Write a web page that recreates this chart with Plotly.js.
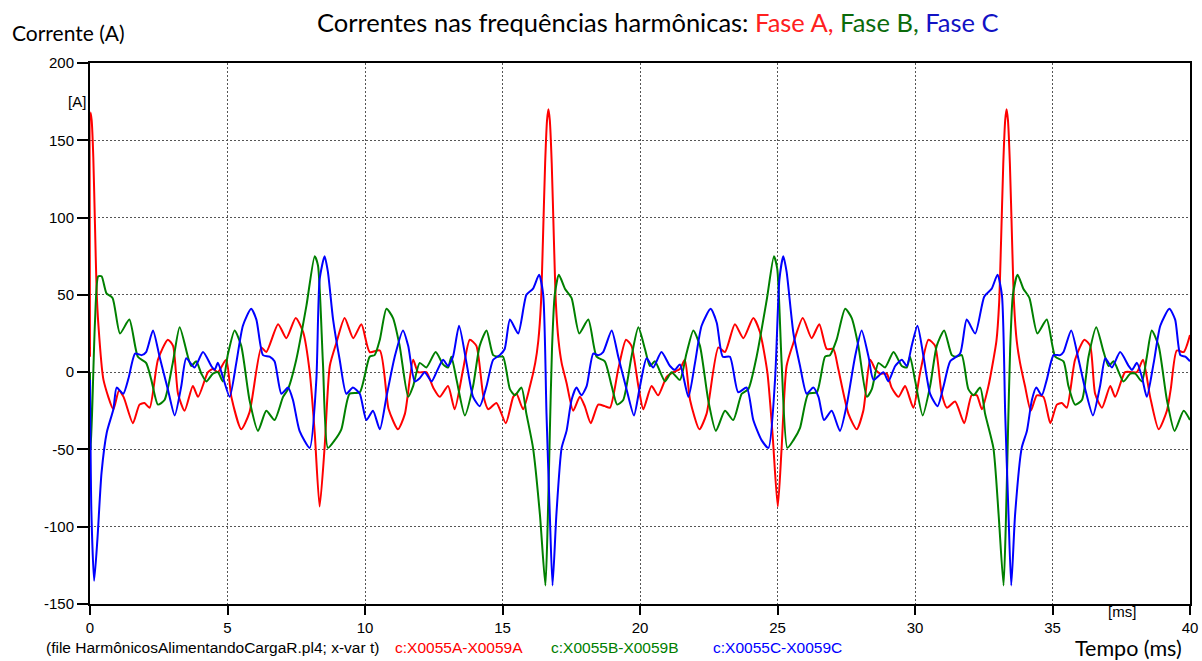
<!DOCTYPE html>
<html>
<head>
<meta charset="utf-8">
<script src="https://cdn.plot.ly/plotly-3.0.1.min.js"></script>
<style>html,body{margin:0;padding:0;background:#fff}#chart{width:1202px;height:661px}</style>
</head>
<body>
<div id="chart"></div>
<script>
// Phase A (red) — time in ms, current in A
const tA = [0,0.02,0.06,0.12,0.18,0.24,0.30,0.49,0.85,1.05,1.22,1.56,1.80,1.98,2.17,2.47,2.83,3.02,3.20,3.44,3.74,3.93,4.29,4.47,4.65,4.95,5.14,5.50,5.80,6.23,6.41,6.84,7.14,7.48,7.75,7.99,8.17,8.35,8.53,8.72,8.96,9.26,9.57,9.87,10.17,10.54,10.86,11.20,11.45,11.75,11.93,12.23,12.48,12.72,13.02,13.26,13.57,13.81,14.05,14.30,14.48,14.78,15.12,15.39,15.51,15.75,16.00,16.19,16.30,16.40,16.47,16.55,16.62,16.67,16.72,16.79,16.87,16.94,17.04,17.15,17.33,17.57,17.81,17.99,18.21,18.48,18.72,18.91,19.21,19.49,19.69,19.94,20.12,20.42,20.66,20.97,21.21,21.45,21.63,21.82,22.16,22.42,22.85,23.09,23.45,23.76,24.12,24.36,24.63,24.82,25.01,25.15,25.33,25.58,25.92,26.24,26.52,26.79,27.03,27.21,27.58,27.88,28.12,28.37,28.55,28.73,28.97,29.15,29.40,29.64,29.94,30.19,30.49,30.73,30.97,31.16,31.46,31.79,32.06,32.25,32.43,32.67,32.85,32.96,33.06,33.13,33.21,33.28,33.33,33.38,33.45,33.53,33.60,33.70,33.82,34.00,34.21,34.43,34.67,34.92,35.16,35.34,35.52,35.82,36.16,36.37,36.55,36.80,37.10,37.28,37.64,37.89,38.07,38.29,38.55,38.86,39.16,39.30,39.52,39.77,40.00];
const iA = [10,168,163,139,96,53,32,-5,-24,-12,-16,-33,-21,-20,-23,8,21,17,-14,-25,-9,-16,0,2,0,8,-16,-37,-26,16,13,31,22,35,26,0,-39,-87,-49,4,19,35,22,31,13,14,-24,-37,-27,8,0,0,-10,-16,-9,-24,2,21,17,-15,-24,-20,-33,-16,-14,-24,-9,6,20,45,85,135,163,170,163,135,85,45,20,6,-7,-25,-16,-22,-33,-21,-22,-23,2,21,17,-9,-24,-9,-15,-3,0,2,8,-18,-37,-27,16,13,31,22,35,26,0,-40,-87,-49,4,19,35,22,31,15,15,2,-27,-37,-25,8,2,-1,-1,-10,-16,-9,-23,0,21,17,-14,-23,-19,-33,-15,-15,-24,-9,8,20,45,85,135,163,170,163,135,85,45,20,6,-9,-25,-15,-16,-33,-21,-20,-23,8,21,17,-14,-23,-9,-16,0,0,0,8,-16,-37,-25,-11,14,13,24];

// Phase B (green)
const tB = [0,0.03,0.18,0.30,0.42,0.60,0.82,1.09,1.43,1.74,2.04,2.23,2.47,2.71,3.01,3.26,3.56,3.68,3.86,4.05,4.23,4.47,4.65,4.83,5.02,5.26,5.50,5.80,6.11,6.41,6.71,7.02,7.20,7.50,7.87,8.17,8.29,8.47,8.65,8.90,9.14,9.44,9.81,10.17,10.35,10.54,10.78,11.02,11.26,11.57,11.75,11.99,12.23,12.57,12.84,13.02,13.14,13.33,13.63,13.93,14.17,14.42,14.66,14.84,15.02,15.27,15.45,15.69,15.87,16.11,16.36,16.56,16.64,16.72,16.80,16.90,17.05,17.27,17.51,17.79,18.12,18.42,18.72,18.97,19.17,19.39,19.69,19.94,20.18,20.36,20.54,20.91,21.15,21.45,21.69,21.94,22.18,22.48,22.76,23.09,23.39,23.70,23.94,24.24,24.61,24.87,24.99,25.15,25.36,25.58,25.82,26.12,26.43,26.73,26.91,27.15,27.46,27.70,27.94,28.25,28.43,28.67,28.91,29.22,29.52,29.70,29.82,30.00,30.28,30.55,30.79,31.06,31.34,31.52,31.70,31.94,32.13,32.37,32.55,32.85,33.04,33.22,33.30,33.38,33.46,33.56,33.73,33.94,34.16,34.45,34.79,35.10,35.40,35.58,35.82,36.07,36.31,36.59,36.86,37.04,37.22,37.58,37.83,38.01,38.25,38.43,38.61,38.86,39.16,39.44,39.77,40.00];
const iB = [0,-50,32,62,62,51,48,25,34,10,6,-5,-21,-18,6,29,10,4,7,-1,-6,-1,0,-6,12,27,17,-18,-38,-25,-31,-16,-11,8,43,75,69,6,-49,-44,-37,-14,-13,10,11,21,41,35,17,-16,-9,6,3,13,5,3,10,-5,-28,-9,17,27,11,10,10,-11,-15,-10,-27,-49,-92,-138,-100,-40,15,50,63,54,48,25,34,10,7,-9,-21,-18,10,29,15,4,7,-6,0,-5,12,27,17,-18,-38,-25,-31,-14,-11,10,47,75,67,6,-49,-44,-36,-14,-13,10,11,21,41,35,17,-16,-11,6,3,13,4,3,10,-5,-28,-9,17,27,11,10,11,-11,-15,-10,-27,-49,-92,-138,-100,-40,15,50,63,54,48,25,34,10,7,-9,-21,-18,10,29,13,4,7,-6,-1,-1,-6,10,27,17,-18,-38,-25,-31];

// Phase C (blue)
const tC = [0,0.05,0.15,0.27,0.42,0.61,0.85,0.97,1.21,1.40,1.64,1.88,2.04,2.29,2.53,2.83,3.08,3.32,3.50,3.80,4.11,4.41,4.53,4.65,4.83,5.08,5.32,5.56,5.86,6.05,6.29,6.53,6.71,6.96,7.20,7.38,7.62,7.99,8.23,8.35,8.53,8.65,8.84,9.08,9.32,9.56,9.81,10.05,10.29,10.54,10.78,11.08,11.38,11.57,11.81,11.99,12.17,12.42,12.60,12.84,13.02,13.20,13.42,13.69,13.93,14.17,14.42,14.66,14.90,15.08,15.27,15.57,15.87,16.11,16.33,16.48,16.60,16.72,16.82,16.96,17.15,17.33,17.51,17.69,17.87,18.06,18.30,18.48,18.66,18.97,19.21,19.51,19.78,20.00,20.24,20.48,20.78,21.09,21.27,21.45,21.76,22.00,22.24,22.57,22.79,23.01,23.27,23.57,23.88,24.12,24.42,24.67,24.91,25.07,25.21,25.33,25.58,25.82,26.06,26.30,26.49,26.69,26.97,27.27,27.52,27.82,28.06,28.31,28.49,28.85,29.03,29.28,29.52,29.70,29.88,30.09,30.31,30.55,30.82,31.04,31.28,31.64,31.88,32.19,32.52,32.79,33.00,33.16,33.28,33.40,33.50,33.64,33.88,34.07,34.25,34.41,34.61,34.79,35.04,35.28,35.40,35.68,35.95,36.19,36.47,36.73,36.92,37.16,37.46,37.77,37.89,38.07,38.25,38.43,38.68,38.92,39.25,39.46,39.65,39.83,40.00];
const iC = [-5,-90,-135,-108,-65,-39,-24,-10,-14,-4,12,11,13,27,10,-11,-28,-9,9,3,13,4,1.5,6,-3,-16,6,30,41,34,11,10,7,-14,-10,-18,-38,-49,-5,60,75,65,34,8,-14,-10,-14,-31,-25,-37,-16,10,27,17,-6,-4,0,-6,0,8,4,10,30,6,-16,-22,-9,8,11,15,34,25,50,54,63,50,-27,-92,-138,-92,-49,-38,-18,-10,-15,-9,12,11,13,27,10,-11,-28,-9,9,3,13,4,1.5,5,-16,6,30,41,32,10,10,-13,-10,-31,-44,-49,-5,60,75,65,25,4,-14,-10,-16,-31,-25,-38,-21,10,27,10,-5,0,-6,4,8,4,17,30,10,-14,-22,-9,7,12,34,25,49,54,63,50,-27,-92,-138,-92,-49,-38,-18,-10,-15,-5,11,11,13,27,8,-11,-28,-9,9,3,13,4,1.5,6,-3,-16,6,30,41,34,11,10,7];

const xTicks = [0,5,10,15,20,25,30,35,40];
const yTicks = [-150,-100,-50,0,50,100,150,200];

const seriesColors = ['#ff0000','#008000','#0000ff'];
function tr(x,y,c){return {x:x,y:y,type:'scatter',mode:'lines',line:{color:c,width:2,shape:'spline',smoothing:0.6},hoverinfo:'skip',showlegend:false};}
const data = [tr(tA,iA,seriesColors[0]), tr(tB,iB,seriesColors[1]), tr(tC,iC,seriesColors[2])];

const arial = 'Liberation Sans, Arial, sans-serif';
const cal = 'Lato, Open Sans, sans-serif';
function px2x(p){return (p-90)/1100;}
function py2y(p){return (604-p)/541;}
const ann = [
 {text:'Correntes nas frequências harmônicas: <span style="color:#ff2020">Fase A,</span> <span style="color:#0b6b0b">Fase B,</span> <span style="color:#1212c4">Fase C</span>', x:px2x(658), y:py2y(22), xanchor:'center', yanchor:'middle', font:{family:cal,size:25.5,color:'#000'}},
 {text:'Corrente (A)', x:px2x(10), y:py2y(33), xanchor:'left', yanchor:'middle', font:{family:cal,size:21,color:'#000'}},
 {text:'[A]', x:px2x(88), y:py2y(101), xanchor:'right', yanchor:'middle', font:{family:arial,size:15,color:'#000'}},
 {text:'[ms]', x:px2x(1106), y:py2y(611), xanchor:'left', yanchor:'middle', font:{family:arial,size:15,color:'#000'}},
 {text:'(file HarmônicosAlimentandoCargaR.pl4; x-var t)', x:px2x(44), y:py2y(647), xanchor:'left', yanchor:'middle', font:{family:arial,size:15.5,color:'#000'}},
 {text:'c:X0055A-X0059A', x:px2x(393), y:py2y(647), xanchor:'left', yanchor:'middle', font:{family:arial,size:15.5,color:'#ff0000'}},
 {text:'c:X0055B-X0059B', x:px2x(549), y:py2y(647), xanchor:'left', yanchor:'middle', font:{family:arial,size:15.5,color:'#008000'}},
 {text:'c:X0055C-X0059C', x:px2x(711), y:py2y(647), xanchor:'left', yanchor:'middle', font:{family:arial,size:15.5,color:'#0000ff'}},
 {text:'Tempo (ms)', x:px2x(1073), y:py2y(648), xanchor:'left', yanchor:'middle', font:{family:cal,size:21.5,color:'#000'}}
].map(a=>Object.assign({xref:'paper',yref:'paper',showarrow:false},a));

const layout = {
 width:1202, height:661,
 margin:{l:90,r:12,t:63,b:57,pad:0},
 paper_bgcolor:'#fff', plot_bgcolor:'#fff',
 showlegend:false,
 xaxis:{range:[0,40], tickvals:xTicks, ticktext:xTicks.map(String), showline:true, linecolor:'#000', linewidth:2, mirror:true,
        ticks:'outside', ticklen:9, tickwidth:2, tickcolor:'#000', showgrid:true, gridcolor:'#555', gridwidth:1, griddash:'2px,2px',
        zeroline:false, tickfont:{family:arial,size:15,color:'#000'}, fixedrange:true},
 yaxis:{range:[-150,200], tickvals:yTicks, ticktext:yTicks.map(String), showline:true, linecolor:'#000', linewidth:2, mirror:true,
        ticks:'outside', ticklen:11, tickwidth:2, tickcolor:'#000', showgrid:true, gridcolor:'#555', gridwidth:1, griddash:'2px,2px',
        zeroline:false, tickfont:{family:arial,size:15,color:'#000'}, fixedrange:true},
 annotations: ann
};
Plotly.newPlot('chart', data, layout, {displayModeBar:false, staticPlot:true});
</script>
</body>
</html>
